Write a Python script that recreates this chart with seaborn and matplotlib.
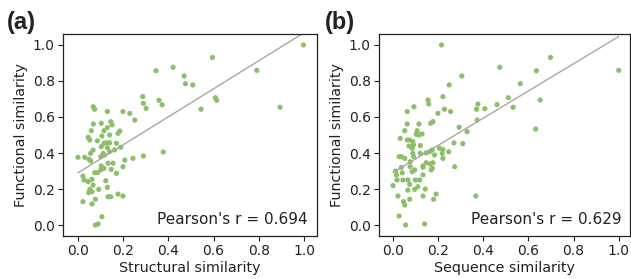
import numpy as np
import pandas as pd
import matplotlib
matplotlib.use("Agg")
import matplotlib.pyplot as plt
import seaborn as sns

# Panel (a): structural vs functional similarity
struct_x = [0.068, 0.075, 0.131, 0.200, 0.230, 0.252, 0.069, 0.104, 0.146, 0.152, 0.131, 0.186,
            0.178, 0.060, 0.116, 0.141, 0.107, 0.046, 0.053, 0.087, 0.126, 0.141, 0.116, 0.171,
            0.190, 0.104, 0.131, 0.068, 0.057, 0.112, 0.141, 0.163, 0.001, 0.031, 0.050, 0.102,
            0.118, 0.244, 0.208, 0.057, 0.134, 0.156, 0.104, 0.116, 0.102, 0.148, 0.200, 0.171,
            0.075, 0.087, 0.023, 0.028, 0.063, 0.046, 0.124, 0.068, 0.131, 0.053, 0.093, 0.063,
            0.049, 0.134, 0.146, 0.178, 0.200, 0.078, 0.023, 0.063, 0.107, 0.078, 0.090,
            0.997, 0.595, 0.421, 0.346, 0.470, 0.476, 0.508, 0.791, 0.894, 0.608, 0.614, 0.545,
            0.287, 0.290, 0.302, 0.359, 0.373, 0.378, 0.290]
struct_y = [0.657, 0.643, 0.630, 0.630, 0.620, 0.583, 0.561, 0.565, 0.574, 0.556, 0.541, 0.522,
            0.509, 0.524, 0.524, 0.500, 0.494, 0.487, 0.472, 0.468, 0.457, 0.457, 0.454, 0.454,
            0.432, 0.435, 0.429, 0.417, 0.398, 0.398, 0.407, 0.417, 0.376, 0.376, 0.365, 0.379,
            0.389, 0.370, 0.361, 0.356, 0.343, 0.343, 0.328, 0.315, 0.306, 0.309, 0.324, 0.287,
            0.291, 0.291, 0.272, 0.250, 0.254, 0.241, 0.246, 0.222, 0.209, 0.198, 0.198, 0.185,
            0.180, 0.157, 0.157, 0.172, 0.161, 0.143, 0.130, 0.117, 0.046, 0.000, 0.006,
            1.000, 0.931, 0.876, 0.857, 0.828, 0.785, 0.778, 0.859, 0.654, 0.707, 0.693, 0.643,
            0.713, 0.676, 0.648, 0.693, 0.668, 0.406, 0.383]

# Panel (b): sequence vs functional similarity
seq_x = [0.221, 0.093, 0.063, 0.155, 0.158, 0.199, 0.228, 0.255, 0.063, 0.115, 0.167, 0.177,
         0.052, 0.107, 0.103, 0.115, 0.129, 0.032, 0.063, 0.074, 0.088, 0.091, 0.121, 0.071,
         0.085, 0.174, 0.206, 0.221, 0.121, 0.088, 0.247, 0.218, 0.162, 0.027, 0.037, 0.052,
         0.091, 0.147, 0.221, 0.184, 0.076, 0.147, 0.177, 0.133, 0.165, 0.076, 0.096, 0.174,
         0.085, 0.012, 0.037, 0.015, 0.041, 0.133, 0.169, 0.044, 0.066, 0.133, 0.118, 0.000,
         0.018, 0.099, 0.074, 0.096, 0.110, 0.143, 0.066, 0.022, 0.133, 0.191, 0.180, 0.074,
         0.047, 0.052, 0.027, 0.056, 0.140,
         0.215, 0.249, 0.305, 0.473, 0.698, 0.635, 1.000, 0.564, 0.511, 0.652, 0.461, 0.532,
         0.376, 0.370, 0.407, 0.373, 0.293, 0.328, 0.632, 0.270, 0.309, 0.273, 0.367]
seq_y = [0.713, 0.657, 0.630, 0.694, 0.672, 0.620, 0.643, 0.630, 0.561, 0.561, 0.565, 0.574,
         0.524, 0.524, 0.504, 0.500, 0.506, 0.481, 0.472, 0.472, 0.463, 0.444, 0.441, 0.439,
         0.426, 0.417, 0.426, 0.420, 0.398, 0.398, 0.407, 0.398, 0.407, 0.380, 0.380, 0.370,
         0.380, 0.401, 0.370, 0.389, 0.352, 0.346, 0.346, 0.328, 0.339, 0.324, 0.306, 0.315,
         0.296, 0.300, 0.320, 0.278, 0.290, 0.321, 0.306, 0.250, 0.250, 0.278, 0.250, 0.219,
         0.250, 0.250, 0.226, 0.198, 0.213, 0.200, 0.194, 0.161, 0.161, 0.172, 0.143, 0.143,
         0.130, 0.111, 0.050, 0.000, 0.006,
         1.000, 0.778, 0.828, 0.876, 0.931, 0.857, 0.859, 0.785, 0.707, 0.694, 0.669, 0.654,
         0.672, 0.643, 0.646, 0.583, 0.543, 0.519, 0.533, 0.456, 0.452, 0.324, 0.161]

xlabels = ["Structural similarity", "Sequence similarity"]
ylabel = "Functional similarity"
pearson_texts = ["Pearson's r = 0.694", "Pearson's r = 0.629"]
panel_tags = ["(a)", "(b)"]
ticks = [0.0, 0.2, 0.4, 0.6, 0.8, 1.0]

sns.set_style("white")
plt.rcParams['font.family'] = ['DejaVu Sans']

point_color = "#8cbf6a"
line_color = "#aaa79f"

fig = plt.figure(figsize=(6.31, 2.79), dpi=100)
ax_a = fig.add_axes([63/631, 43/279, 254/631, 202/279])
ax_b = fig.add_axes([379/631, 43/279, 251/631, 202/279])

datasets = [(struct_x, struct_y), (seq_x, seq_y)]
xlims = [(-0.065, 1.057), (-0.062, 1.05)]
for i, (ax, (xs, ys)) in enumerate(zip([ax_a, ax_b], datasets)):
    df = pd.DataFrame({"x": xs, "y": ys})
    sns.regplot(data=df, x="x", y="y", ax=ax, ci=None, truncate=True,
                scatter_kws=dict(s=14, color=point_color, edgecolor="none", alpha=1),
                line_kws=dict(color=line_color, lw=1.0))
    ax.set_xlim(*xlims[i])
    ax.set_ylim(-0.061, 1.061)
    ax.set_xticks(ticks)
    ax.set_yticks(ticks)
    ax.set_xticklabels([f"{t:.1f}" for t in ticks])
    ax.set_yticklabels([f"{t:.1f}" for t in ticks])
    ax.tick_params(axis="both", which="major", labelsize=10, length=3.5, width=0.8,
                   color="#222222", labelcolor="#222222", direction="out",
                   bottom=True, left=True, pad=2.5)
    ax.set_xlabel(xlabels[i], fontsize=10.3, color="#222222", labelpad=2)
    ax.set_ylabel(ylabel, fontsize=10.3, color="#222222", labelpad=3)
    for sp in ax.spines.values():
        sp.set_color("#222222")
        sp.set_linewidth(0.9)
        sp.set_visible(True)
    ax.text(0.965, 0.08, pearson_texts[i], transform=ax.transAxes, ha="right",
            va="center", fontsize=11, color="#222222")

fig.text(7/631, 1 - 22/279, panel_tags[0], fontsize=17, fontweight="bold",
         family=["Liberation Sans", "DejaVu Sans"], va="center", ha="left", color="#222222")
fig.text(325/631, 1 - 22/279, panel_tags[1], fontsize=17, fontweight="bold",
         family=["Liberation Sans", "DejaVu Sans"], va="center", ha="left", color="#222222")

fig.savefig("out.png", dpi=100)
